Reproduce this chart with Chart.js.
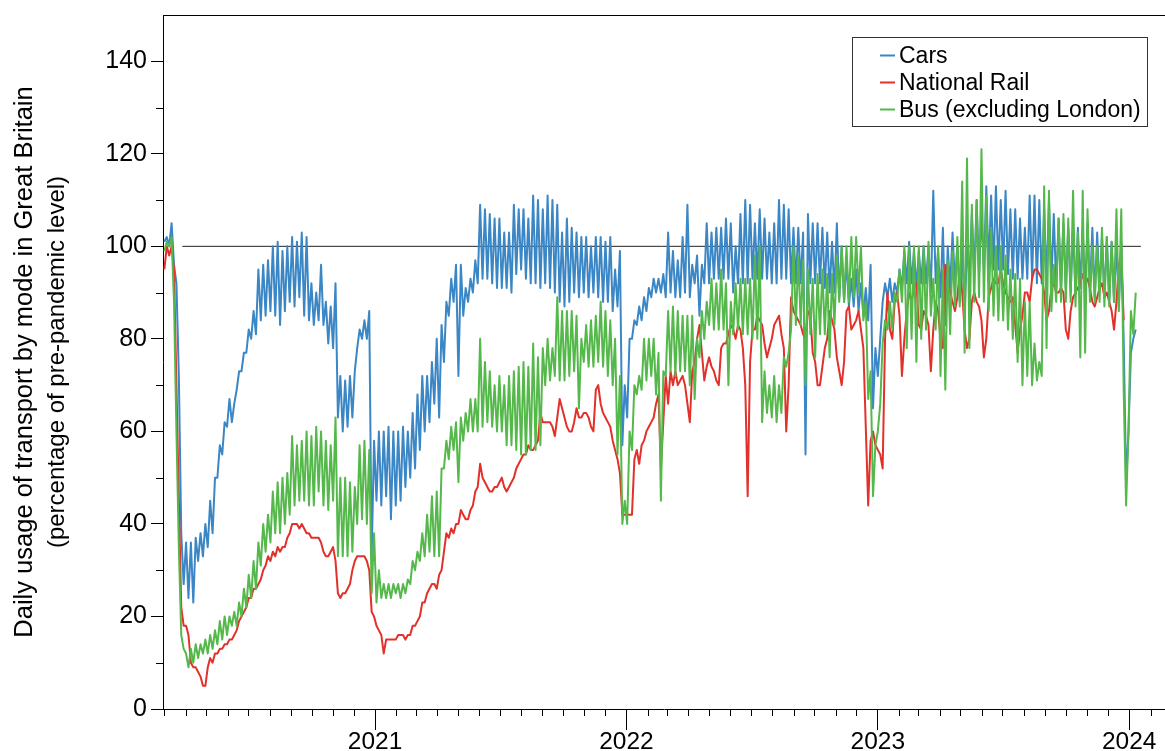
<!DOCTYPE html>
<html>
<head>
<meta charset="utf-8">
<title>Daily usage of transport by mode in Great Britain</title>
<style>
  html, body { margin: 0; padding: 0; background: #fff; }
  #wrap { position: relative; width: 1165px; height: 751px; }
</style>
<script src="https://cdn.jsdelivr.net/npm/chart.js@4.4.1/dist/chart.umd.min.js"></script>
</head>
<body>
<div id="wrap"><canvas id="chart" width="1165" height="751"></canvas></div>
<script>
// Weekly samples, week 0 starting Sunday 1 March 2020.
// "Sunday" values sit at the start of each week, "midweek" values 3.5 days later.
const seriesStart = Date.UTC(2020, 2, 1);

const carsSunday = [
  101,100,96,72,27,24,23,32,33,35,      // weeks 0-9
  38,50,55,61,62,69,73,77,80,81,        // 10-19
  84,85,86,85,83,86,88,87,89,85,        // 20-29
  84,83,84,83,79,78,63,60,61,63,        // 30-39
  78,80,80,33,45,44,46,41,44,45,        // 40-49
  48,50,52,56,60,62,66,63,75,85,        // 50-59
  88,72,85,88,90,92,93,93,92,91,        // 60-69
  91,91,90,94,95,93,92,92,91,92,        // 70-79
  91,90,88,87,88,90,89,90,89,90,        // 80-89
  89,88,88,86,87,57,63,80,83,84,        // 90-99
  86,89,90,90,89,90,89,89,90,89,        // 100-109
  92,85,92,92,93,93,93,93,90,92,        // 110-119
  92,92,93,93,93,93,92,92,93,93,        // 120-129
  92,92,92,55,92,92,92,91,90,90,        // 130-139
  89,88,87,87,86,85,84,65,72,88,        // 140-149
  89,88,90,91,92,92,91,92,92,90,        // 150-159
  92,89,83,91,92,88,85,93,94,94,        // 160-169
  95,95,95,95,95,94,93,93,93,93,        // 170-179
  93,92,92,92,92,91,91,91,90,90,        // 180-189
  91,90,90,89,90,89,88,88,87,80,        // 190-199
  60,80                                 // 200-201
];
const carsMidweek = [
  102,105,92,38,36,36,37,38,40,45,
  50,57,62,67,66,73,77,82,86,95,
  96,97,100,101,99,100,102,101,103,102,
  92,90,96,88,87,92,72,71,72,73,
  82,84,86,58,60,60,61,60,60,61,
  60,64,68,72,72,75,80,83,88,93,
  96,96,91,93,97,109,108,107,106,106,
  103,103,109,108,108,106,111,110,108,111,
  110,109,103,106,104,103,102,102,100,102,
  102,101,102,95,99,70,80,84,87,89,
  91,93,93,94,103,99,97,102,109,96,
  98,96,105,103,104,104,106,105,100,107,
  110,109,105,108,106,103,105,110,109,108,
  104,104,103,107,105,105,104,103,101,105,
  100,97,93,95,92,91,96,78,80,92,
  93,92,95,99,101,99,99,100,100,112,
  99,104,100,103,100,100,100,107,110,107,
  113,111,113,110,112,108,108,106,104,111,
  111,110,108,110,107,106,105,104,104,104,
  104,105,104,103,102,102,101,101,101,49,
  77,82
];

const railSunday = [
  95,98,95,45,18,16,9,8,5,9,
  10,12,13,14,15,17,20,22,24,26,
  28,31,32,33,34,35,38,40,39,39,
  38,37,37,34,33,35,25,25,26,30,
  33,33,32,21,18,16,15,15,15,16,
  15,16,18,20,23,26,27,29,34,37,
  38,40,42,41,44,48,50,48,47,48,
  50,47,49,52,54,55,56,57,64,62,
  62,59,67,63,60,62,63,64,63,60,
  70,64,62,58,54,42,42,42,56,57,
  60,62,66,52,72,73,73,71,70,62,
  75,83,71,76,73,70,79,81,82,83,
  78,46,82,85,83,76,80,84,81,60,
  89,85,83,80,85,75,70,78,86,82,
  73,75,87,83,86,78,44,60,56,52,
  90,80,90,72,86,88,92,82,85,73,
  88,80,96,90,86,95,82,80,90,87,
  76,89,93,92,92,89,89,77,85,90,
  93,95,93,84,91,90,91,82,86,90,
  92,92,91,87,91,89,88,82,96,84
];
const railMidweek = [
  100,100,70,22,18,10,9,7,5,11,
  12,13,14,15,16,19,21,24,26,27,
  30,33,34,35,35,37,40,40,40,38,
  37,37,36,33,34,32,24,25,27,32,
  33,33,30,20,17,12,15,15,16,16,
  16,18,19,23,25,27,26,30,38,39,
  40,43,41,43,47,53,49,47,48,49,
  48,48,50,53,55,57,56,58,62,62,
  61,63,65,61,60,65,63,64,61,69,
  66,63,61,56,51,42,42,54,53,58,
  61,63,68,62,66,70,70,72,66,73,
  80,77,74,74,71,78,79,83,80,82,
  70,75,82,84,79,78,83,85,78,70,
  86,84,81,86,77,70,74,80,84,76,
  70,86,82,84,82,61,58,57,55,80,
  82,88,85,80,90,91,83,86,83,82,
  86,78,94,88,89,90,78,88,88,84,
  80,91,92,95,90,88,83,82,90,88,
  95,94,90,86,92,90,90,80,89,91,
  94,93,88,89,92,90,86,88,98
];

const busSunday = [
  99,100,88,35,13,9,10,11,12,12,
  13,14,15,16,18,18,20,22,24,26,
  31,34,36,38,38,40,42,44,45,45,
  44,44,47,44,43,45,33,33,33,34,
  40,41,40,25,23,24,24,24,25,24,
  25,27,30,32,33,34,33,33,52,54,
  56,49,58,60,60,60,61,62,61,60,
  60,57,57,56,55,55,56,56,57,70,
  71,72,71,71,72,73,65,75,74,74,
  75,74,72,70,55,40,40,56,68,69,
  71,72,68,45,72,73,72,73,73,70,
  67,76,80,83,82,82,82,70,81,82,
  81,81,80,80,62,64,63,62,64,74,
  82,83,83,70,81,76,81,81,76,83,
  88,88,88,89,90,84,67,46,60,79,
  82,82,88,88,78,80,75,80,82,85,
  82,72,69,81,87,87,77,78,88,89,
  88,86,85,84,84,82,80,75,70,72,
  70,71,72,78,86,88,88,88,88,87,
  76,77,88,88,88,87,87,88,86,69,
  60,81
];
const busMidweek = [
  101,102,60,16,12,13,14,14,15,16,
  17,19,20,20,21,23,26,29,32,36,
  40,42,47,49,50,51,59,57,58,60,
  59,61,60,58,57,63,50,50,49,48,
  57,58,56,38,30,27,27,27,27,27,
  28,32,34,38,42,46,47,52,58,61,
  62,63,64,67,67,80,75,73,70,72,
  70,72,73,74,75,74,79,76,78,80,
  78,89,86,86,86,85,80,83,84,85,
  88,86,84,80,72,45,60,70,72,80,
  80,80,77,73,86,87,86,85,85,85,
  80,86,88,93,92,95,92,88,92,93,
  93,93,98,100,73,70,72,70,76,77,
  100,98,97,95,93,94,95,94,94,98,
  100,100,102,102,100,88,73,57,66,84,
  88,90,95,100,100,100,100,100,101,93,
  100,95,97,99,102,114,119,109,110,121,
  111,104,100,100,98,95,94,93,88,88,
  79,75,113,112,96,106,107,106,112,103,
  112,108,100,100,104,102,101,108,108,44,
  86,90
];

// Pre-pandemic reference level and the span it is drawn over (days from 1 March 2020)
const baselineLevel = 100;
const baselineSpan = [26, 1418];

// Axis ticks
const yTickValues = [0, 20, 40, 60, 80, 100, 120, 140];
const yMinorValues = [10, 30, 50, 70, 90, 110, 130];
const yearLabels = ['2021', '2022', '2023', '2024'];

const seriesNames = ['Cars', 'National Rail', 'Bus (excluding London)'];
const seriesColors = ['#3b86c5', '#e2312a', '#55b84b'];
const yTitleLines = ['Daily usage of transport by mode in Great Britain', '(percentage of pre-pandemic level)'];

const DAY = 86400000;
const dayOf = (y, m, d) => (Date.UTC(y, m, d) - seriesStart) / DAY;
const yearTickDays = yearLabels.map(l => dayOf(+l, 0, 1));
const monthTickDays = [];
for (let y = 2020; y <= 2024; y++) {
  for (let m = 0; m < 12; m++) {
    if (m === 0) continue;
    if (y === 2020 && m < 2) continue;
    if (y === 2024 && m > 1) continue;
    monthTickDays.push(dayOf(y, m, 1));
  }
}

function weeklyPoints(sunday, midweek) {
  const pts = [];
  for (let k = 0; k < sunday.length; k++) {
    pts.push({ x: 7 * k, y: sunday[k] });
    if (k < midweek.length) pts.push({ x: 7 * k + 3.5, y: midweek[k] });
  }
  return pts;
}

const FONT = '"Liberation Sans", Arial, Helvetica, sans-serif';
Chart.defaults.font.family = FONT;
Chart.defaults.color = '#000';

// Frame top edge, minor tick marks, rotated axis title and boxed legend
const decorations = {
  id: 'decorations',
  afterDraw(chart) {
    const { ctx, chartArea } = chart;
    const xs = chart.scales.x, ys = chart.scales.y;
    ctx.save();
    ctx.strokeStyle = '#000';
    ctx.lineWidth = 1;
    ctx.beginPath();
    ctx.moveTo(chartArea.left, Math.round(chartArea.top) + 0.5);
    ctx.lineTo(chartArea.right, Math.round(chartArea.top) + 0.5);
    const b = Math.round(chartArea.bottom);
    monthTickDays.forEach(d => {
      const px = Math.round(xs.getPixelForValue(d)) + 0.5;
      ctx.moveTo(px, b);
      ctx.lineTo(px, b + 7);
    });
    const l = Math.round(chartArea.left);
    yMinorValues.forEach(v => {
      const py = Math.round(ys.getPixelForValue(v)) + 0.5;
      ctx.moveTo(l - 7, py);
      ctx.lineTo(l, py);
    });
    ctx.stroke();

    // y-axis title
    ctx.fillStyle = '#000';
    ctx.textAlign = 'center';
    ctx.textBaseline = 'middle';
    const cy = 362;
    [[25, 25.5], [57, 24]].forEach(([cx, size], i) => {
      ctx.save();
      ctx.font = size + 'px ' + FONT;
      ctx.translate(cx, cy);
      ctx.rotate(-Math.PI / 2);
      ctx.fillText(yTitleLines[i], 0, 0);
      ctx.restore();
    });

    // legend
    ctx.fillStyle = '#fff';
    ctx.fillRect(852, 37, 295, 89);
    ctx.strokeStyle = '#333';
    ctx.lineWidth = 1;
    ctx.strokeRect(852.5, 37.5, 295, 89);
    ctx.font = '23px ' + FONT;
    ctx.textAlign = 'left';
    ctx.textBaseline = 'middle';
    seriesNames.forEach((name, i) => {
      const y = 55.5 + i * 27;
      ctx.strokeStyle = seriesColors[i];
      ctx.lineWidth = 2;
      ctx.beginPath();
      ctx.moveTo(880, y);
      ctx.lineTo(895, y);
      ctx.stroke();
      ctx.fillStyle = '#000';
      ctx.fillText(name, 899, y + 1);
    });
    ctx.restore();
  }
};

const lineStyle = { pointRadius: 0, borderWidth: 2, tension: 0, borderJoinStyle: 'round', fill: false };

new Chart(document.getElementById('chart').getContext('2d'), {
  type: 'line',
  data: {
    datasets: [
      Object.assign({ label: seriesNames[0], data: weeklyPoints(carsSunday, carsMidweek), borderColor: seriesColors[0], order: 3 }, lineStyle),
      Object.assign({ label: seriesNames[1], data: weeklyPoints(railSunday, railMidweek), borderColor: seriesColors[1], order: 2 }, lineStyle),
      Object.assign({ label: seriesNames[2], data: weeklyPoints(busSunday, busMidweek), borderColor: seriesColors[2], order: 1 }, lineStyle),
      { label: 'Pre-pandemic level', data: baselineSpan.map(x => ({ x, y: baselineLevel })), borderColor: '#222', borderWidth: 1, pointRadius: 0, order: 4 }
    ]
  },
  options: {
    responsive: false,
    animation: false,
    devicePixelRatio: 1,
    layout: { padding: { top: 15, right: 0, left: 0, bottom: 0 } },
    plugins: { legend: { display: false }, tooltip: { enabled: false }, title: { display: false } },
    scales: {
      x: {
        type: 'linear',
        min: -2,
        max: 1453,
        afterBuildTicks: s => { s.ticks = yearTickDays.map(v => ({ value: v })); },
        afterFit: s => { s.height = 42; s.paddingLeft = 0; s.paddingRight = 0; },
        ticks: {
          autoSkip: false, maxRotation: 0, minRotation: 0, padding: -2,
          font: { size: 24.5 }, color: '#000',
          callback: v => yearLabels[yearTickDays.indexOf(v)]
        },
        grid: { drawOnChartArea: false, drawTicks: true, tickLength: 21, color: '#000', lineWidth: 1 },
        border: { display: true, color: '#000', width: 1 }
      },
      y: {
        type: 'linear',
        min: 0,
        max: 150,
        afterBuildTicks: s => { s.ticks = yTickValues.map(v => ({ value: v })); },
        afterFit: s => { s.width = 163; s.paddingTop = 0; s.paddingBottom = 0; },
        ticks: { font: { size: 25 }, color: '#000', padding: 4 },
        grid: { drawOnChartArea: false, drawTicks: true, tickLength: 12, color: '#000', lineWidth: 1 },
        border: { display: true, color: '#000', width: 1 }
      }
    }
  },
  plugins: [decorations]
});
</script>
</body>
</html>
